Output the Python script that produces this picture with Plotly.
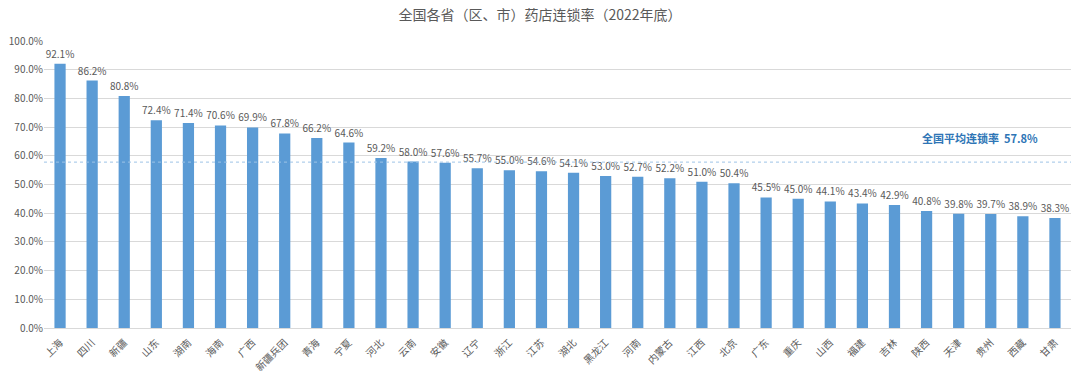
import plotly.graph_objects as go

provinces = ["上海", "四川", "新疆", "山东", "湖南", "海南", "广西", "新疆兵团", "青海", "宁夏",
             "河北", "云南", "安徽", "辽宁", "浙江", "江苏", "湖北", "黑龙江", "河南", "内蒙古",
             "江西", "北京", "广东", "重庆", "山西", "福建", "吉林", "陕西", "天津", "贵州",
             "西藏", "甘肃"]
rates = [92.1, 86.2, 80.8, 72.4, 71.4, 70.6, 69.9, 67.8, 66.2, 64.6,
         59.2, 58.0, 57.6, 55.7, 55.0, 54.6, 54.1, 53.0, 52.7, 52.2,
         51.0, 50.4, 45.5, 45.0, 44.1, 43.4, 42.9, 40.8, 39.8, 39.7,
         38.9, 38.3]
national_avg = 57.8
y_ticks = [0, 10, 20, 30, 40, 50, 60, 70, 80, 90, 100]

FONT = "Noto Sans CJK SC, Noto Sans, sans-serif"
GRAY = "#595959"

fig = go.Figure()
fig.add_trace(go.Bar(
    x=provinces, y=rates,
    marker=dict(color="#5b9bd5", line=dict(width=0)),
    text=[f"{v:.1f}%" for v in rates],
    textposition="outside",
    constraintext="none",
    textfont=dict(size=10, color=GRAY, family=FONT),
    cliponaxis=False,
))
fig.add_shape(type="line", xref="paper", x0=0, x1=1, yref="y", y0=national_avg, y1=national_avg,
              line=dict(color="#9dc3e6", width=1, dash="3px,3px"))
fig.add_annotation(xref="paper", x=0.97, yref="y", y=national_avg + 8.4,
                   text=f"<b>全国平均连锁率  {national_avg}%</b>", showarrow=False,
                   xanchor="right", font=dict(size=11, color="#2e75b6", family=FONT))

fig.update_layout(
    width=1080, height=381,
    margin=dict(l=44, r=9, t=41, b=53),
    paper_bgcolor="white", plot_bgcolor="white",
    title=dict(text="全国各省（区、市）药店连锁率（2022年底）", x=0.5, xanchor="center",
               y=0.96, yanchor="middle", font=dict(size=14, color=GRAY, family=FONT)),
    font=dict(family=FONT, color=GRAY, size=10),
    bargap=0.65,
    showlegend=False,
    xaxis=dict(tickangle=-45, tickfont=dict(size=10, color=GRAY), showline=True,
               linecolor="#d9d9d9", ticks="outside", ticklen=4, tickcolor="rgba(0,0,0,0)",
               automargin=False),
    yaxis=dict(range=[0, 100], tickvals=y_ticks, ticktext=[f"{v:.1f}%" for v in y_ticks],
               gridcolor="#d9d9d9", zeroline=False, tickfont=dict(size=10, color=GRAY),
               automargin=False),
)
fig.write_html("out.html", config={"displayModeBar": False},
               post_script="document.body.style.margin='0';")
